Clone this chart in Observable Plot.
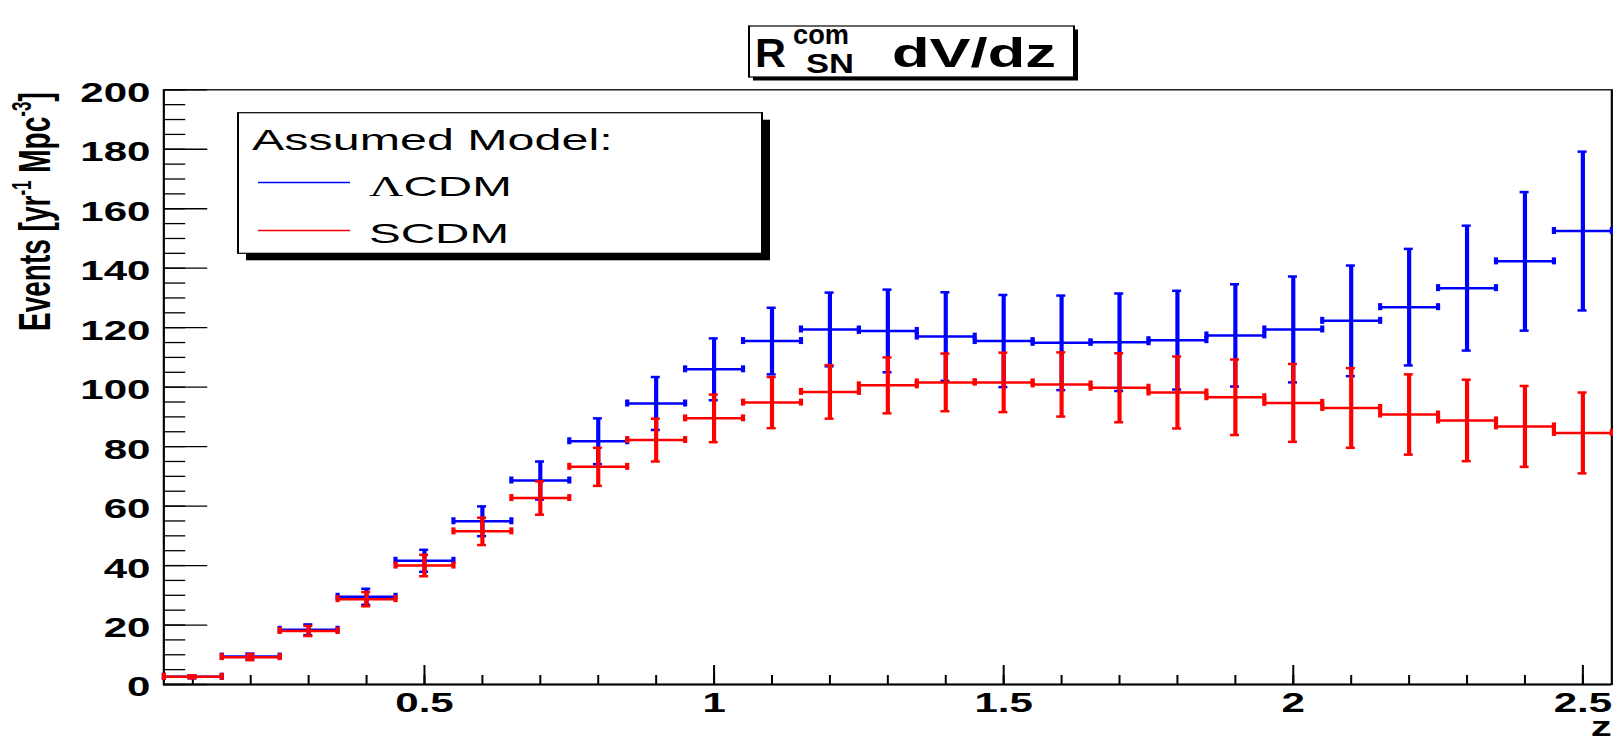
<!DOCTYPE html>
<html>
<head>
<meta charset="utf-8">
<script src="https://cdn.jsdelivr.net/npm/d3@7"></script>
<script src="https://cdn.jsdelivr.net/npm/@observablehq/plot@0.6"></script>
<style>
  html, body { margin: 0; padding: 0; background: white; }
  #chart { width: 1613px; height: 741px; overflow: hidden; }
</style>
</head>
<body>
<div id="chart"></div>
<script>
// ---------------- data ----------------
const z = [0.1, 0.2, 0.3, 0.4, 0.5, 0.6, 0.7, 0.8, 0.9, 1.0, 1.1, 1.2, 1.3, 1.4, 1.5, 1.6, 1.7, 1.8, 1.9, 2.0, 2.1, 2.2, 2.3, 2.4, 2.5];
const lcdm    = [2.6, 9.4, 18.4, 29.5, 41.6, 54.9, 68.6, 81.8, 94.5, 106.0, 115.5, 119.4, 118.9, 117.0, 115.5, 114.9, 115.1, 115.8, 117.4, 119.4, 122.3, 126.9, 133.3, 142.3, 152.5];
const lcdmErr = [0.5, 1.0, 1.8, 2.7, 3.7, 5.0, 6.4, 7.7, 8.9, 10.4, 11.2, 12.4, 13.9, 14.9, 15.5, 15.9, 16.4, 16.6, 17.2, 17.8, 18.6, 19.6, 21.0, 23.3, 26.7];
const scdm    = [2.6, 9.2, 18.0, 28.7, 40.0, 51.5, 62.7, 73.2, 82.2, 89.5, 94.8, 98.4, 100.6, 101.6, 101.6, 100.9, 99.8, 98.2, 96.6, 94.7, 93.0, 90.8, 88.8, 86.8, 84.6];
const scdmErr = [0.5, 1.0, 1.7, 2.4, 3.6, 4.6, 5.6, 6.4, 7.2, 8.0, 8.6, 9.0, 9.4, 9.7, 10.0, 10.8, 11.6, 12.1, 12.7, 13.1, 13.4, 13.5, 13.7, 13.6, 13.6];
const binHalfWidth = 0.05;

const xMajor = [0.5, 1, 1.5, 2, 2.5];
const xTickLabels = ["0.5", "1", "1.5", "2", "2.5"];
const xMinor = d3.range(0.1, 2.55, 0.1);
const yMajor = [0, 20, 40, 60, 80, 100, 120, 140, 160, 180, 200];
const yTickLabels = ["0", "20", "40", "60", "80", "100", "120", "140", "160", "180", "200"];
const yMinor = d3.range(0, 201, 5);

const seriesNames = ["\u039BCDM", "SCDM"];
const seriesColors = ["#0000ff", "#ff0000"];
const legendHeader = "Assumed Model:";
const xTitle = "z";

// ---------------- layout ----------------
const S = 1.67;             // horizontal stretch of the original canvas
const W = 1613 / S;
const H = 741;
const mL = 163 / S, mR = 2 / S, mT = 89.3, mB = 57;
const innerW = W - mL - mR, innerH = H - mT - mB;

const rows = (vals, errs) => z.map((zz, i) => ({z: zz, v: vals[i], e: errs[i]}));
const blue = rows(lcdm, lcdmErr);
const red = rows(scdm, scdmErr);

function errMarks(data, color) {
  const sw = 2.5;
  return [
    Plot.ruleY(data, {y: "v", x1: d => d.z - binHalfWidth, x2: d => d.z + binHalfWidth, stroke: color, strokeWidth: sw}),
    Plot.ruleX(data, {x: "z", y1: d => d.v - d.e, y2: d => d.v + d.e, stroke: color, strokeWidth: sw}),
    Plot.ruleY(data, {y: d => d.v + d.e, x1: "z", x2: "z", insetLeft: -2.7, insetRight: -2.7, stroke: color, strokeWidth: sw}),
    Plot.ruleY(data, {y: d => d.v - d.e, x1: "z", x2: "z", insetLeft: -2.7, insetRight: -2.7, stroke: color, strokeWidth: sw}),
    Plot.ruleX(data, {x: d => d.z - binHalfWidth, y1: "v", y2: "v", insetTop: -3.5, insetBottom: -3.5, stroke: color, strokeWidth: sw}),
    Plot.ruleX(data, {x: d => d.z + binHalfWidth, y1: "v", y2: "v", insetTop: -3.5, insetBottom: -3.5, stroke: color, strokeWidth: sw})
  ];
}

const svg = Plot.plot({
  width: W, height: H,
  marginLeft: mL, marginRight: mR, marginTop: mT, marginBottom: mB,
  x: {domain: [0.05, 2.55], axis: null},
  y: {domain: [0, 200], axis: null},
  style: {fontFamily: "'Liberation Sans', Arial, Helvetica, sans-serif", background: "white", color: "black"},
  marks: [
    Plot.frame({stroke: "black", strokeWidth: 1.3}),
    Plot.ruleY([0], {stroke: "black", strokeWidth: 2}),
    // x ticks (inward)
    Plot.tickX(xMinor, {x: d => d, insetTop: innerH - 9, stroke: "black", strokeWidth: 1.2}),
    Plot.tickX(xMajor, {x: d => d, insetTop: innerH - 19, stroke: "black", strokeWidth: 1.2}),
    // y ticks (inward)
    Plot.tickY(yMinor, {y: d => d, insetRight: innerW - 13.3, stroke: "black", strokeWidth: 1.3}),
    Plot.tickY(yMajor, {y: d => d, insetRight: innerW - 26.5, stroke: "black", strokeWidth: 1.3}),
    // tick labels
    Plot.text(yMajor, {y: d => d, text: (d, i) => yTickLabels[i], frameAnchor: "left", textAnchor: "end", dx: -8, dy: 3, fontSize: 28, fontWeight: "bold"}),
    Plot.text(xMajor, {x: d => d, text: (d, i) => xTickLabels[i], frameAnchor: "bottom", dy: 27, fontSize: 28, fontWeight: "bold"}),
    Plot.text([xTitle], {text: d => d, frameAnchor: "bottom-right", textAnchor: "end", dy: 51, fontSize: 28, fontWeight: "bold"}),
    // data
    ...errMarks(blue, seriesColors[0]),
    ...errMarks(red, seriesColors[1])
  ]
});

const root = d3.select(svg);
const FF = "'Liberation Sans', Arial, Helvetica, sans-serif";

// y-axis title
const yt = root.append("text")
  .attr("transform", `translate(${50 / S},331) rotate(-90) scale(1,0.95)`)
  .attr("text-anchor", "start")
  .attr("font-family", FF).attr("font-weight", "bold").attr("font-size", 28)
  .attr("fill", "black");
yt.append("tspan").text("Events [yr");
yt.append("tspan").attr("font-size", 17).attr("dy", -12).text("-1");
yt.append("tspan").attr("dy", 12).text(" Mpc");
yt.append("tspan").attr("font-size", 17).attr("dy", -12).text("-3");
yt.append("tspan").attr("dy", 12).text("]");

// title box
const tb = {x0: 749, x1: 1074, y0: 26, y1: 77};
root.append("rect").attr("x", (tb.x0 + 4) / S).attr("y", tb.y0 + 3.5)
  .attr("width", (tb.x1 - tb.x0) / S).attr("height", tb.y1 - tb.y0).attr("fill", "black");
root.append("rect").attr("x", tb.x0 / S).attr("y", tb.y0)
  .attr("width", (tb.x1 - tb.x0) / S).attr("height", tb.y1 - tb.y0)
  .attr("fill", "white").attr("stroke", "black").attr("stroke-width", 1.2);
function ttext(str, x0, x1, y, size) {
  root.append("text").attr("x", x0 / S).attr("y", y)
    .attr("text-anchor", "start")
    .attr("font-family", FF).attr("font-weight", "bold").attr("font-size", size)
    .attr("textLength", (x1 - x0) / S).attr("lengthAdjust", "spacingAndGlyphs")
    .attr("fill", "black").text(str);
}
ttext("R", 755, 786, 67, 40);
ttext("com", 793, 849, 44, 28);
ttext("SN", 806, 854, 73, 27);
ttext("dV/dz", 892, 1056, 67, 40);

// legend
const lb = {x0: 238, x1: 762, y0: 112.7, y1: 253.3};
root.append("rect").attr("x", (lb.x0 + 8) / S).attr("y", lb.y0 + 7)
  .attr("width", (lb.x1 - lb.x0) / S).attr("height", lb.y1 - lb.y0).attr("fill", "black");
root.append("rect").attr("x", lb.x0 / S).attr("y", lb.y0)
  .attr("width", (lb.x1 - lb.x0) / S).attr("height", lb.y1 - lb.y0)
  .attr("fill", "white").attr("stroke", "black").attr("stroke-width", 1.2);
root.append("text").attr("x", 252 / S).attr("y", 150)
  .attr("text-anchor", "start")
  .attr("font-family", FF).attr("font-size", 29).attr("fill", "black").text(legendHeader);
const entryY = [182.5, 230.5];
const entryBase = [196, 243.5];
seriesNames.forEach((name, i) => {
  root.append("line").attr("x1", 258 / S).attr("x2", 350 / S)
    .attr("y1", entryY[i]).attr("y2", entryY[i])
    .attr("stroke", seriesColors[i]).attr("stroke-width", 1.5);
  const t = root.append("text").attr("x", 369 / S).attr("y", entryBase[i])
    .attr("text-anchor", "start")
    .attr("font-family", FF).attr("font-size", 28.5).attr("fill", "black");
  if (name.startsWith("\u039B")) {
    t.append("tspan").attr("font-family", "'Liberation Serif', 'DejaVu Serif', serif").text("\u039B");
    t.append("tspan").text(name.slice(1));
  } else {
    t.text(name);
  }
});

svg.setAttribute("width", 1613);
svg.setAttribute("height", 741);
svg.setAttribute("preserveAspectRatio", "none");
svg.style.width = "1613px";
svg.style.height = "741px";
svg.style.maxWidth = "none";
document.getElementById("chart").appendChild(svg);

// slightly condense the bold tick labels horizontally (as in the original rendering)
root.selectAll('g[aria-label="text"] text').each(function () {
  const L = this.getComputedTextLength();
  if (L > 0) {
    this.setAttribute("textLength", L * 0.9);
    this.setAttribute("lengthAdjust", "spacingAndGlyphs");
  }
});
</script>
</body>
</html>
